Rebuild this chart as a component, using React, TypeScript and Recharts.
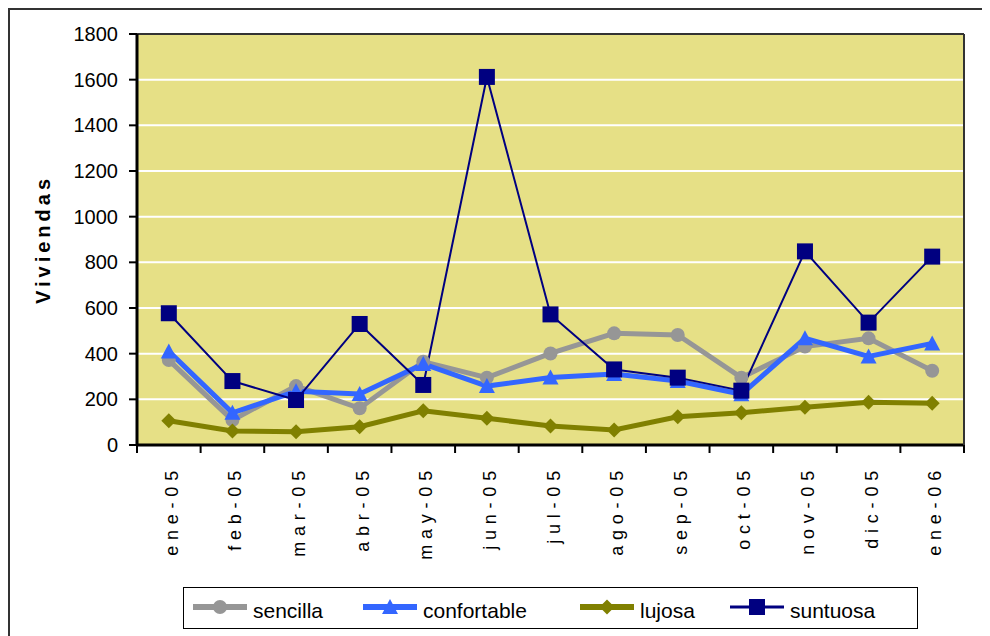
import React from 'react';
import { LineChart, Line, XAxis, YAxis, CartesianGrid, Legend, Label } from 'recharts';

const months = ['ene-05', 'feb-05', 'mar-05', 'abr-05', 'may-05', 'jun-05', 'jul-05', 'ago-05', 'sep-05', 'oct-05', 'nov-05', 'dic-05', 'ene-06'];
const sencilla = [372, 109, 258, 161, 365, 295, 401, 489, 482, 295, 431, 467, 325];
const confortable = [410, 141, 235, 223, 355, 258, 296, 311, 280, 222, 467, 388, 445];
const lujosa = [106, 61, 58, 80, 150, 117, 83, 66, 124, 141, 165, 187, 183];
const suntuosa = [577, 280, 197, 530, 263, 1612, 572, 331, 295, 238, 848, 536, 825];
const yTicks = [0, 200, 400, 600, 800, 1000, 1200, 1400, 1600, 1800];

const FONT = '"Liberation Sans", Arial, sans-serif';

const PLOT_W = 827;
const HALF = PLOT_W / months.length / 2;

const data = months.map((m, i) => ({
  month: m,
  sencilla: sencilla[i],
  confortable: confortable[i],
  lujosa: lujosa[i],
  suntuosa: suntuosa[i],
}));

const series = [
  { key: 'sencilla', color: '#969696', width: 5, shape: 'circle' },
  { key: 'confortable', color: '#3366FF', width: 5, shape: 'triangle' },
  { key: 'lujosa', color: '#808000', width: 5, shape: 'diamond' },
  { key: 'suntuosa', color: '#000080', width: 2, shape: 'square' },
];

const Marker = ({ shape, cx, cy, color }: any) => {
  if (cx == null || cy == null) return null;
  if (shape === 'circle') return <circle cx={cx} cy={cy} r={7} fill={color} />;
  if (shape === 'triangle')
    return <polygon points={`${cx},${cy - 8} ${cx + 8},${cy + 7} ${cx - 8},${cy + 7}`} fill={color} />;
  if (shape === 'diamond')
    return <polygon points={`${cx},${cy - 7.5} ${cx + 7.5},${cy} ${cx},${cy + 7.5} ${cx - 7.5},${cy}`} fill={color} />;
  return <rect x={cx - 8} y={cy - 8} width={16} height={16} fill={color} />;
};

// month label plus the tick marks that sit on the category boundaries
const MonthTick = ({ x, y, payload, index }: any) => {
  const ty = y + 20;
  return (
    <g>
      <line x1={x - HALF} x2={x - HALF} y1={y} y2={y + 8} stroke="#000" strokeWidth={2} />
      {index === months.length - 1 && (
        <line x1={x + HALF} x2={x + HALF} y1={y} y2={y + 8} stroke="#000" strokeWidth={2} />
      )}
      <g transform={`translate(${x + 9}, ${ty}) rotate(-90)`}>
        <text x={0} y={0} textAnchor="end" fill="#000"
          style={{ fontSize: '18px', letterSpacing: '5.8px', fontFamily: FONT }}>
          {payload.value}
        </text>
      </g>
    </g>
  );
};

const legendX = [10, 180, 397, 547];

const renderLegend = () => (
  <svg width={735} height={42} style={{ display: 'block' }}>
    <rect x={0.5} y={0.5} width={734} height={41} fill="#fff" stroke="#000" />
    {series.map((s, i) => (
      <g key={s.key}>
        <line x1={legendX[i]} x2={legendX[i] + 54} y1={20} y2={20} stroke={s.color} strokeWidth={s.width === 2 ? 3 : 6} />
        <Marker shape={s.shape} cx={legendX[i] + 27} cy={20} color={s.color} />
        <text x={legendX[i] + 60} y={31} fontSize={21} fontFamily={FONT} fill="#000">{s.key}</text>
      </g>
    ))}
  </svg>
);

export default function App() {
  return (
    <div style={{
      width: 982, height: 628, boxSizing: 'border-box', overflow: 'hidden', background: '#fff',
      borderTop: '2px solid #333', borderLeft: '2px solid #333', position: 'relative',
    }}>
      <LineChart width={980} height={626} data={data} margin={{ top: 23, right: 25, bottom: 0, left: 0 }}>
        <CartesianGrid fill="#E6E086" fillOpacity={1} stroke="#fff" strokeWidth={2} vertical={false} />
        <XAxis dataKey="month" height={191} tickSize={0} tickMargin={0} tickLine={false}
          padding={{ left: HALF, right: HALF }}
          axisLine={{ stroke: '#000', strokeWidth: 3 }} tick={<MonthTick />} interval={0} />
        <XAxis xAxisId="t" orientation="top" type="number" domain={[0, 1]} height={1}
          tick={false} tickLine={false} axisLine={{ stroke: '#333', strokeWidth: 2 }} />
        <YAxis domain={[0, 1800]} ticks={yTicks} width={127} tickSize={8} tickMargin={11}
          axisLine={{ stroke: '#000', strokeWidth: 3 }} tickLine={{ stroke: '#000', strokeWidth: 2 }}
          tick={{ fontSize: 20, fill: '#000', fontFamily: FONT }}>
          <Label content={({ viewBox }: any) => {
            const lx = viewBox.x + 40;
            const ly = viewBox.y + viewBox.height / 2;
            return (
              <text x={lx} y={ly} transform={`rotate(-90, ${lx}, ${ly})`} textAnchor="middle"
                fontSize={20} fontWeight="bold" letterSpacing={4} fontFamily={FONT} fill="#000">
                Viviendas
              </text>
            );
          }} />
        </YAxis>
        <YAxis yAxisId="r" orientation="right" domain={[0, 1800]} width={1}
          tick={false} tickLine={false} axisLine={{ stroke: '#333', strokeWidth: 2 }} />
        {series.map((s) => (
          <Line key={s.key} type="linear" dataKey={s.key} stroke={s.color} strokeWidth={s.width}
            dot={(p: any) => <Marker key={`${s.key}-${p.index}`} shape={s.shape} cx={p.cx} cy={p.cy} color={s.color} />}
            activeDot={false} isAnimationActive={false} />
        ))}
        <Legend layout="horizontal" verticalAlign="middle" align="center" content={renderLegend}
          wrapperStyle={{ left: 173, top: 577, width: 735, height: 42 }} />
      </LineChart>
    </div>
  );
}
